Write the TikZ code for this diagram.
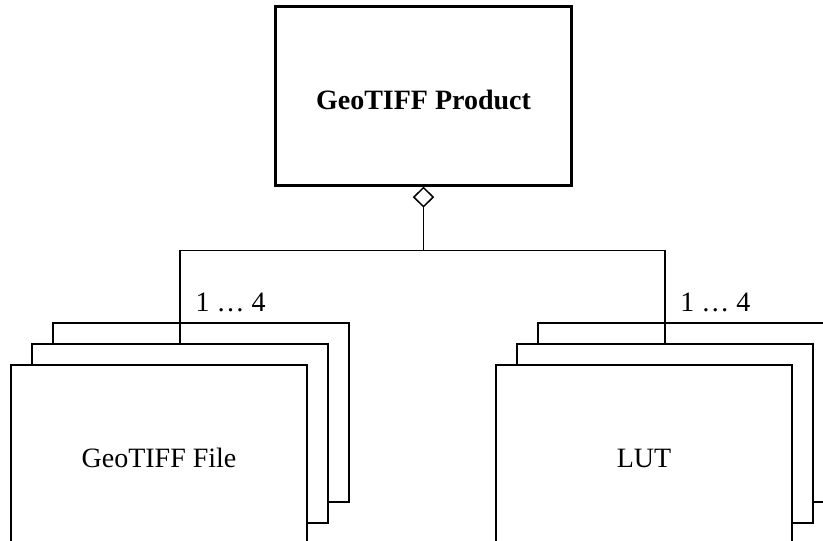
\documentclass[tikz,border=0pt]{standalone}
\usepackage{fontspec}
\setmainfont{Liberation Serif}
\usetikzlibrary{arrows.meta,positioning}

\begin{document}
\begin{tikzpicture}[x=0.4pt,y=-0.4pt,
    sheet/.style={draw,fill=white,line width=0.7pt,minimum width=118.4pt,
      minimum height=71.6pt,inner sep=0pt,text height=10.6pt,text depth=0pt,
      font=\fontsize{11.2}{13}\selectfont},
    mult/.style={font=\fontsize{11.2}{13}\selectfont,inner sep=0pt,anchor=base west},
    aggr/.style={line width=0.5pt,{Diamond[open,length=8.4pt,width=8.6pt,line width=0.6pt]}-}]
 \clip (0,0) rectangle (823,541);
 \node[sheet,line width=0.9pt,font=\fontsize{11.2}{13}\selectfont\bfseries] (prod) at (423.5,96)
  {GeoTIFF Product};
 % stacks: back sheet first, front sheet last
 \node[sheet] (file3) at (201,412.5) {};
 \node[sheet] (file2) at ([shift={(-21,21)}]file3.center) {};
 \node[sheet] (file1) at ([shift={(-21,21)}]file2.center) {GeoTIFF File};
 \node[sheet] (lut3) at (686,412.5) {};
 \node[sheet] (lut2) at ([shift={(-21,21)}]lut3.center) {};
 \node[sheet] (lut1) at ([shift={(-21,21)}]lut2.center) {LUT};
 % aggregation
 \coordinate[below=25.6pt of prod.south] (hub);
 \draw[aggr] (prod.south) -- (hub) -| (file2.north);
 \draw[line width=0.5pt] (hub) -| (lut2.north);
 \node[mult] (mult1) at ([shift={(15,-32)}]file2.north) {1 … 4};
 \node[mult] (mult2) at ([shift={(15,-32)}]lut2.north) {1 … 4};
\end{tikzpicture}
\end{document}
